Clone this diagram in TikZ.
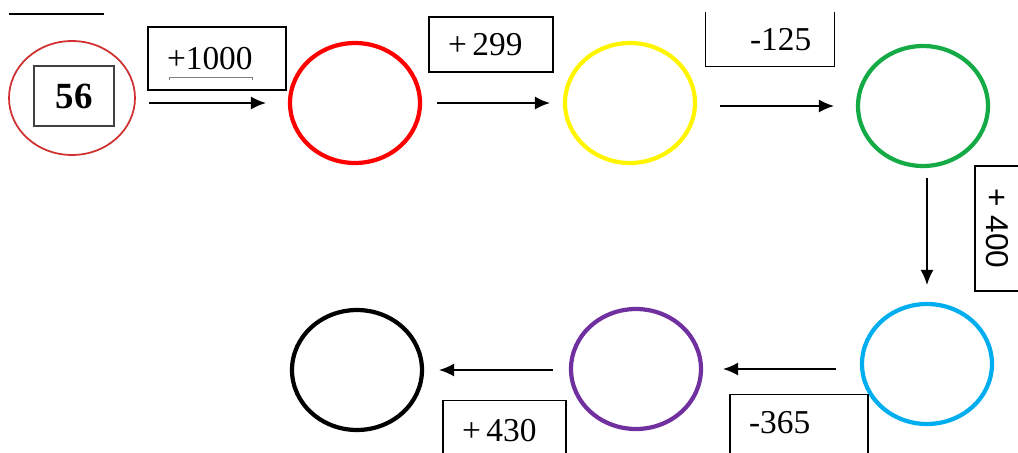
\documentclass[tikz,border=0pt]{standalone}
\usepackage{fontspec}
\setmainfont{Liberation Serif}
\setsansfont{Liberation Sans}
\usetikzlibrary{shapes.geometric, arrows.meta, positioning}
\definecolor{ringred}{RGB}{208,48,48}
\definecolor{ringyellow}{RGB}{255,245,0}
\definecolor{ringgreen}{RGB}{20,170,70}
\definecolor{ringcyan}{RGB}{0,174,239}
\definecolor{ringpurple}{RGB}{112,48,160}
\tikzset{
  ring/.style={ellipse, line width=2.4pt, minimum width=2.6cm, minimum height=2.4cm, inner sep=0pt},
  opbox/.style={draw, line width=0.8pt, rectangle, inner xsep=0.38cm, align=left},
  arr/.style={-{Latex[length=3mm,width=2.6mm]}, line width=0.9pt},
}

\begin{document}
\begin{tikzpicture}[x=0.02cm, y=-0.02cm, every node/.style={font=\fontsize{19}{23}\selectfont}]
    \useasboundingbox (0,0) rectangle (1018,453);
    \clip (0,0) rectangle (1018,453);

    % Start ring with the given number
    \draw[line width=1.2pt] (9,14) -- (104,14);
    \node[ring, draw=ringred, line width=1pt, minimum width=2.52cm, minimum height=2.28cm] (c0) at (72,98) {};
    \node[opbox, line width=1pt, draw=black!75, inner xsep=0pt, align=center, minimum width=1.6cm, minimum height=1.2cm,
          font=\bfseries\fontsize{21}{24}\selectfont] (n0) at (74,96) {56};

    % Draw the empty rings
    \foreach \n/\x/\y/\c in {c1/355/103/red, c2/630/103/ringyellow, c3/923/106/ringgreen,
                             c4/927/364/ringcyan, c5/636/369/ringpurple, c6/357/370/black} {
        \node[ring, draw=\c] (\n) at (\x,\y) {};
    }

    % Connect the rings
    \foreach \a/\b/\s/\e in {c0/c1/.26/.44, c1/c2/.3/.26, c2/c3/.46/.44} {
        \draw[arr, shorten <=\s cm, shorten >=\e cm] (\a.east |- \b) -- (\b);
    }
    \draw[arr, shorten <=.2cm, shorten >=.34cm] (c3.south -| c4) -- (c4);
    \foreach \a/\b/\s/\e in {c4/c5/.48/.4, c5/c6/.32/.3} {
        \draw[arr, shorten <=\s cm, shorten >=\e cm] (\a.west |- \b) -- (\b);
    }

    % Operation boxes
    \node[opbox, text width=2cm, minimum height=1.26cm] (m1) at (217,58.5) {+1000};
    \draw[gray, line width=0.5pt] (169,80) -- (169,77) -- (252,77) -- (252,80);
    \node[opbox, text width=1.72cm, minimum height=1.1cm] (m2) at (491,44.5) {+\,299};
    \node[opbox, draw=none, text width=1.8cm, minimum height=1.06cm] (m3) at (770,39.5) {\hspace{0.5cm}-125};
    \draw[line width=0.8pt] (m3.north west) -- (m3.south west) -- (m3.south east) -- (m3.north east);
    \node[opbox, rotate=-90, inner xsep=0pt, align=center, minimum width=2.5cm, minimum height=0.88cm,
          font=\sffamily\fontsize{18}{22}\selectfont] (m4) at (997,228.5) {+ 400};
    \node[opbox, anchor=north, text width=2cm, text height=0.45cm, text depth=0.8cm, inner ysep=0.32cm] (m5) at (799,394) {-365};
    \node[opbox, anchor=north, text width=1.7cm, text height=0.45cm, text depth=0.8cm, inner ysep=0.36cm] (m6) at (504.5,400) {+\,430};
\end{tikzpicture}
\end{document}
